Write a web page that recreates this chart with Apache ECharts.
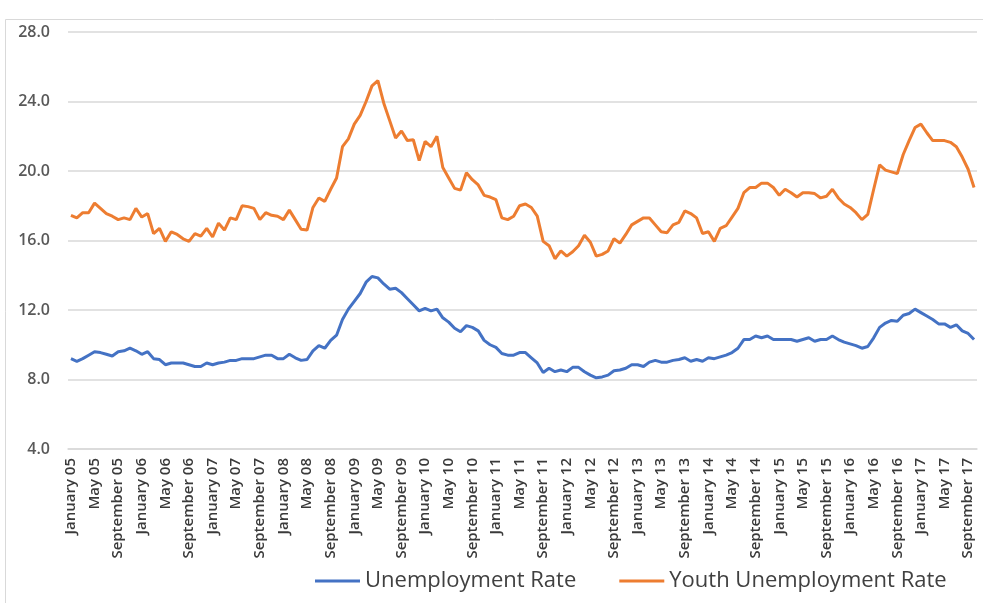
<!DOCTYPE html>
<html>
<head>
<meta charset="utf-8">
<title>Unemployment Rate and Youth Unemployment Rate</title>
<script src="https://cdn.jsdelivr.net/npm/echarts@6/dist/echarts.min.js"></script>
<style>
    html, body { margin: 0; padding: 0; background: #ffffff; }
    #chart-container { width: 983px; height: 603px; }
</style>
</head>
<body>
<div id="chart-container"></div>
<script>
// monthly series, January 2005 - October 2017 (%)
const monthNames = ['January', 'February', 'March', 'April', 'May', 'June',
    'July', 'August', 'September', 'October', 'November', 'December'];
const years = ['05', '06', '07', '08', '09', '10', '11', '12', '13', '14', '15', '16', '17'];

const unemploymentRate = [
    9.2, 9.05, 9.2, 9.4, 9.6, 9.55, 9.45, 9.35, 9.6, 9.65, 9.8, 9.65,
    9.45, 9.6, 9.2, 9.15, 8.85, 8.95, 8.95, 8.95, 8.85, 8.75, 8.75, 8.95,
    8.85, 8.95, 9.0, 9.1, 9.1, 9.2, 9.2, 9.2, 9.3, 9.4, 9.4, 9.2,
    9.2, 9.45, 9.25, 9.1, 9.15, 9.65, 9.95, 9.8, 10.25, 10.55, 11.45, 12.05,
    12.5, 12.95, 13.6, 13.93, 13.85, 13.5, 13.2, 13.25, 13.0, 12.65, 12.3, 11.95,
    12.1, 11.95, 12.05, 11.55, 11.3, 10.95, 10.75, 11.1, 11.0, 10.8, 10.25, 10.0,
    9.85, 9.5, 9.4, 9.4, 9.55, 9.55, 9.25, 8.95, 8.4, 8.65, 8.45, 8.55,
    8.45, 8.7, 8.7, 8.45, 8.25, 8.1, 8.15, 8.25, 8.5, 8.55, 8.65, 8.85,
    8.85, 8.75, 9.0, 9.1, 9.0, 9.0, 9.1, 9.15, 9.25, 9.05, 9.15, 9.05,
    9.25, 9.2, 9.3, 9.4, 9.55, 9.8, 10.3, 10.3, 10.5, 10.4, 10.5, 10.3,
    10.3, 10.3, 10.3, 10.2, 10.3, 10.4, 10.2, 10.3, 10.3, 10.5, 10.3, 10.15,
    10.05, 9.95, 9.8, 9.9, 10.4, 11.0, 11.25, 11.4, 11.35, 11.7, 11.8, 12.05,
    11.85, 11.65, 11.45, 11.2, 11.2, 11.0, 11.15, 10.8, 10.65, 10.3
];

const youthUnemploymentRate = [
    17.45, 17.3, 17.6, 17.6, 18.15, 17.85, 17.55, 17.4, 17.2, 17.3, 17.2, 17.85,
    17.35, 17.55, 16.4, 16.7, 15.95, 16.5, 16.35, 16.1, 15.95, 16.4, 16.25, 16.7,
    16.2, 17.0, 16.6, 17.3, 17.2, 18.0, 17.95, 17.85, 17.2, 17.6, 17.45, 17.4,
    17.2, 17.75, 17.2, 16.65, 16.6, 17.9, 18.45, 18.25, 18.95, 19.6, 21.4, 21.85,
    22.7, 23.2, 24.0, 24.9, 25.2, 23.9, 22.9, 21.9, 22.3, 21.75, 21.8, 20.6,
    21.7, 21.4, 22.0, 20.2, 19.6, 19.0, 18.9, 19.9, 19.5, 19.2, 18.6, 18.5,
    18.35, 17.3, 17.2, 17.4, 18.0, 18.1, 17.9, 17.4, 15.95, 15.7, 14.95, 15.4,
    15.1, 15.35, 15.7, 16.3, 15.9, 15.1, 15.2, 15.4, 16.1, 15.85, 16.35, 16.9,
    17.1, 17.3, 17.3, 16.9, 16.5, 16.45, 16.9, 17.05, 17.7, 17.55, 17.3, 16.4,
    16.5, 15.95, 16.7, 16.85, 17.35, 17.85, 18.75, 19.05, 19.05, 19.3, 19.3, 19.05,
    18.6, 18.95, 18.75, 18.5, 18.75, 18.75, 18.7, 18.45, 18.55, 18.95, 18.45, 18.1,
    17.9, 17.6, 17.2, 17.5, 18.95, 20.35, 20.05, 19.95, 19.85, 20.95, 21.75, 22.5,
    22.7, 22.2, 21.75, 21.75, 21.75, 21.65, 21.4, 20.8, 20.1, 19.05
];

const yMin = 4;
const yMax = 28;
const yStep = 4;

let categories = [];
for (let y = 0; y < years.length; y++) {
    for (let m = 0; m < monthNames.length; m++) {
        if (categories.length < unemploymentRate.length) {
            categories.push(monthNames[m] + ' ' + years[y]);
        }
    }
}

let dom = document.getElementById('chart-container');
let myChart = echarts.init(dom, null, { renderer: 'canvas' });

let option = {
    animation: false,
    backgroundColor: '#ffffff',
    graphic: [
        {
            type: 'rect',
            shape: { x: 5.5, y: 19.5, width: 1000, height: 620 },
            style: { fill: 'none', stroke: '#d9d9d9', lineWidth: 1 },
            silent: true
        }
    ],
    grid: {
        left: 68,
        right: 6,
        top: 32,
        bottom: 154
    },
    legend: {
        left: 310,
        top: 565,
        icon: 'rect',
        itemWidth: 45,
        itemHeight: 3,
        itemGap: 43,
        textStyle: {
            fontFamily: 'Open Sans',
            fontSize: 22,
            color: '#404040'
        },
        data: ['Unemployment Rate', 'Youth Unemployment Rate']
    },
    xAxis: {
        type: 'category',
        data: categories,
        boundaryGap: true,
        axisLine: { lineStyle: { color: '#d9d9d9', width: 1.5 } },
        axisTick: { show: false },
        axisLabel: {
            interval: 3,
            rotate: 90,
            margin: 9,
            fontFamily: 'Open Sans',
            fontSize: 15,
            fontWeight: 600,
            color: '#3a3a3a'
        },
        splitLine: { show: false }
    },
    yAxis: {
        type: 'value',
        min: yMin,
        max: yMax,
        interval: yStep,
        axisLine: { show: false },
        axisTick: { show: false },
        axisLabel: {
            margin: 18,
            fontFamily: 'Open Sans',
            fontSize: 16,
            fontWeight: 600,
            color: '#595959',
            formatter: (v) => v.toFixed(1)
        },
        splitLine: { lineStyle: { color: '#d9d9d9', width: 1.5 } }
    },
    series: [
        {
            name: 'Unemployment Rate',
            type: 'line',
            data: unemploymentRate,
            symbol: 'none',
            lineStyle: { color: '#4472C4', width: 3 },
            itemStyle: { color: '#4472C4' }
        },
        {
            name: 'Youth Unemployment Rate',
            type: 'line',
            data: youthUnemploymentRate,
            symbol: 'none',
            lineStyle: { color: '#ED7D31', width: 3 },
            itemStyle: { color: '#ED7D31' }
        }
    ]
};

myChart.setOption(option);
window.addEventListener('resize', myChart.resize);
</script>
</body>
</html>
